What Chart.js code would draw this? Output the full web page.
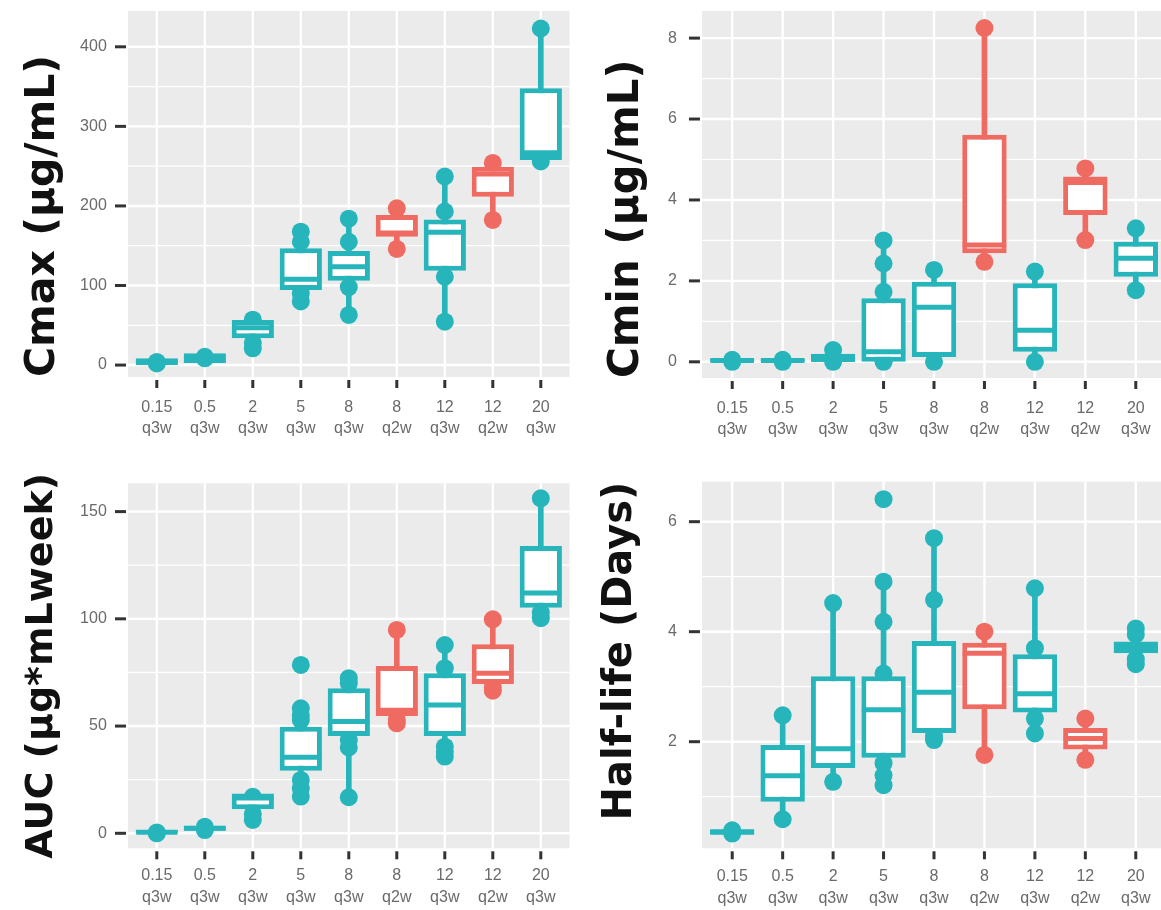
<!DOCTYPE html>
<html>
<head>
<meta charset="utf-8">
<script src="https://cdn.jsdelivr.net/npm/chart.js@4.4.0/dist/chart.umd.min.js"></script>
<style>
html, body { margin: 0; padding: 0; background: #ffffff; }
#wrap { position: relative; width: 1161px; height: 910px; overflow: hidden; background: #ffffff; }
#wrap canvas { position: absolute; }
</style>
</head>
<body>
<div id="wrap">
  <canvas id="cmax" width="580" height="455" style="left:0px;top:0px"></canvas>
  <canvas id="cmin" width="581" height="455" style="left:580px;top:0px"></canvas>
  <canvas id="auc" width="580" height="455" style="left:0px;top:455px"></canvas>
  <canvas id="half" width="581" height="455" style="left:580px;top:455px"></canvas>
</div>
<script>
// ---------- categories ----------
const doses = ['0.15', '0.5', '2', '5', '8', '8', '12', '12', '20'];
const schedules = ['q3w', 'q3w', 'q3w', 'q3w', 'q3w', 'q2w', 'q3w', 'q2w', 'q3w'];
const categories = doses.map((d, i) => d + ' ' + schedules[i]);

// ---------- Cmax (µg/mL) ----------
const cmaxTicks = [0, 100, 200, 300, 400];
const cmaxQ1  = [0, 2.5, 33.6, 94.3, 106, 161.4, 118.5, 211.7, 257.7];
const cmaxMed = [4, 8, 47, 108, 123.6, 166, 167, 240, 266.7];
const cmaxQ3  = [8.5, 15, 56.6, 146.7, 143.4, 188.5, 183, 249.4, 347.8];
const cmaxLo  = [2, 8.5, 21, 80, 63, 146, 54.5, 182.4, 256];
const cmaxHi  = [4, 10.3, 57, 167.6, 184, 197, 237, 254, 423];
const cmaxPts = [[2, 4], [8.5, 10.3], [21, 28, 57], [80, 90, 155, 167.6], [63, 98, 155, 184],
                 [146, 197], [54.5, 111, 193, 237], [182.4, 254], [256, 423]];

// ---------- Cmin (µg/mL) ----------
const cminTicks = [0, 2, 4, 6, 8];
const cminQ1  = [0, 0, 0, 0, 0.12, 2.68, 0.25, 3.63, 2.1];
const cminMed = [0.03, 0.03, 0.06, 0.25, 1.35, 2.89, 0.78, 4.43, 2.56];
const cminQ3  = [0.08, 0.08, 0.2, 1.57, 1.98, 5.61, 1.94, 4.58, 2.97];
const cminLo  = [0, 0, 0, 0, 0, 2.47, 0, 3.01, 1.77];
const cminHi  = [0.05, 0.05, 0.29, 3.0, 2.27, 8.25, 2.23, 4.78, 3.3];
const cminPts = [[0, 0.05], [0, 0.05], [0, 0.29], [0, 0.02, 1.73, 2.43, 3.0], [0, 2.27],
                 [2.47, 8.25], [0, 2.23], [3.01, 4.78], [1.77, 3.3]];

// ---------- AUC (µg*mLweek) ----------
const aucTicks = [0, 50, 100, 150];
const aucQ1  = [0, 1.2, 11.2, 29.2, 45.4, 54.7, 45.4, 69.6, 105.2];
const aucMed = [0.5, 2.3, 16.5, 35.5, 52.1, 57.4, 59.8, 74.6, 112];
const aucQ3  = [1.5, 3.5, 18.6, 49.7, 67.6, 78, 74.6, 88.1, 134];
const aucLo  = [0, 1.5, 6.2, 17.1, 16.8, 51.3, 35.8, 66.5, 100.3];
const aucHi  = [0.4, 3, 17, 58.3, 72.3, 94.8, 87.8, 99.8, 156.2];
const aucPts = [[0, 0.4], [1.5, 3], [6.2, 9, 17], [17.1, 21, 24.9, 52.8, 55.2, 58.3, 78.5],
                [16.8, 40, 43.5, 70, 72.3], [51.3, 53, 94.8], [35.8, 38, 40.4, 77, 87.8],
                [66.5, 68, 99.8], [100.3, 103, 156.2]];

// ---------- Half-life (Days) ----------
const halfTicks = [2, 4, 6];
const halfQ1  = [0.31, 0.91, 1.52, 1.71, 2.16, 2.59, 2.53, 1.86, 3.61];
const halfMed = [0.36, 1.38, 1.87, 2.58, 2.9, 3.61, 2.87, 2.06, 3.72];
const halfQ3  = [0.41, 1.94, 3.19, 3.19, 3.83, 3.8, 3.59, 2.25, 3.82];
const halfLo  = [0.33, 0.59, 1.27, 1.21, 2.03, 1.76, 2.15, 1.67, 3.41];
const halfHi  = [0.39, 2.48, 4.52, 4.91, 5.70, 4.0, 4.79, 2.42, 4.06];
const halfPts = [[0.33, 0.39], [0.59, 2.48], [1.27, 4.52], [1.21, 1.39, 1.61, 3.24, 4.18, 4.91, 6.41],
                 [2.03, 2.1, 4.58, 5.70], [1.76, 4.0], [2.15, 2.42, 3.7, 4.79], [1.67, 2.42],
                 [3.41, 3.5, 3.95, 4.06]];

// ---------- styling ----------
const TEAL = '#26B5BB';
const RED = '#EF6B62';
const colors = schedules.map(s => s === 'q2w' ? RED : TEAL);

const ggPanel = {
  id: 'ggPanel',
  beforeDraw(chart) {
    const { ctx, chartArea: ca, scales: { x, y } } = chart;
    const u = ca.width / categories.length;
    const L = ca.left - 0.1 * u, R = ca.right + 0.1 * u;
    ctx.save();
    ctx.fillStyle = '#EBEBEB';
    ctx.fillRect(L, ca.top, R - L, ca.bottom - ca.top);
    const tv = y.ticks.map(t => t.value);
    const step = tv[1] - tv[0];
    const minors = [tv[0] - step / 2].concat(tv.map(v => v + step / 2)).filter(v => v > y.min && v < y.max);
    ctx.strokeStyle = '#FFFFFF';
    ctx.lineWidth = 1.2;
    minors.forEach(v => {
      const py = y.getPixelForValue(v);
      ctx.beginPath(); ctx.moveTo(L, py); ctx.lineTo(R, py); ctx.stroke();
    });
    ctx.lineWidth = 2.4;
    tv.forEach(v => {
      const py = y.getPixelForValue(v);
      ctx.beginPath(); ctx.moveTo(L, py); ctx.lineTo(R, py); ctx.stroke();
    });
    categories.forEach((c, i) => {
      const px = x.getPixelForValue(i);
      ctx.beginPath(); ctx.moveTo(px, ca.top); ctx.lineTo(px, ca.bottom); ctx.stroke();
    });
    // tick marks
    ctx.strokeStyle = '#333333';
    ctx.lineWidth = 3;
    tv.forEach(v => {
      const py = y.getPixelForValue(v);
      ctx.beginPath(); ctx.moveTo(L - 13, py); ctx.lineTo(L - 2, py); ctx.stroke();
    });
    categories.forEach((c, i) => {
      const px = x.getPixelForValue(i);
      ctx.beginPath(); ctx.moveTo(px, ca.bottom + 3); ctx.lineTo(px, ca.bottom + 11); ctx.stroke();
    });
    ctx.restore();
  }
};

function makePanel(id, d, lay) {
  const canvas = document.getElementById(id);
  const W = canvas.width, H = canvas.height;
  const pointData = [];
  d.pts.forEach((arr, i) => arr.forEach(v => pointData.push({ x: categories[i], y: v })));
  const tickFont = { family: 'Liberation Sans, Arial, sans-serif', size: 16, lineHeight: 1.33 };
  return new Chart(canvas, {
    type: 'bar',
    data: {
      labels: categories,
      datasets: [
        {
          type: 'line', label: 'median', data: d.med, order: 1, showLine: false, clip: false,
          pointStyle: 'line',
          pointRadius: c => { const xs = c.chart.scales.x; return xs.width / categories.length * 0.44 - 0.5; },
          pointBorderWidth: 5, pointBorderColor: colors, pointBackgroundColor: colors,
          pointHoverRadius: 0
        },
        {
          type: 'bar', label: 'box', data: d.q1.map((v, i) => [v, d.q3[i]]), order: 2, grouped: false,
          backgroundColor: '#FFFFFF', borderColor: colors, borderWidth: 5, borderSkipped: false,
          barPercentage: 0.88, categoryPercentage: 1, clip: false
        },
        {
          type: 'bar', label: 'whisker', data: d.lo.map((v, i) => [v, d.hi[i]]), order: 3, grouped: false,
          backgroundColor: colors, borderWidth: 0, barThickness: 5, clip: false
        },
        {
          type: 'line', label: 'points', data: pointData, order: 4, showLine: false, clip: false,
          pointRadius: 9, pointBorderWidth: 0, pointHoverRadius: 9,
          pointBackgroundColor: c => colors[categories.indexOf(c.raw.x)]
        }
      ]
    },
    options: {
      responsive: false,
      devicePixelRatio: 1,
      animation: false,
      events: [],
      layout: { autoPadding: false, padding: { left: 0, top: lay.top, right: W - lay.right, bottom: 0 } },
      plugins: { legend: { display: false }, tooltip: { enabled: false } },
      scales: {
        x: {
          type: 'category', offset: true,
          grid: { display: false, drawTicks: false }, border: { display: false },
          ticks: {
            autoSkip: false, maxRotation: 0, minRotation: 0, padding: lay.xPad,
            color: '#6a6a6a', font: tickFont,
            callback: (v, i) => categories[i].split(' ')
          },
          afterFit: s => { s.height = H - lay.bottom; s.paddingLeft = 0; s.paddingRight = 0; }
        },
        y: {
          type: 'linear', min: d.min, max: d.max,
          grid: { display: false, drawTicks: false }, border: { display: false },
          afterBuildTicks: s => { s.ticks = d.ticks.map(v => ({ value: v })); },
          ticks: { padding: lay.yPad, color: '#6a6a6a', font: { family: 'Liberation Sans, Arial, sans-serif', size: 16 } },
          title: {
            display: true, text: d.title, color: '#111111', align: lay.titleAlign,
            font: { family: 'DejaVu Sans, sans-serif', weight: 'bold', size: lay.titleSize, lineHeight: 1 },
            padding: { top: lay.titleCenter - lay.titleSize / 2, bottom: 0 }
          },
          afterFit: s => { s.width = lay.left; s.paddingTop = 0; s.paddingBottom = 0; }
        }
      }
    },
    plugins: [ggPanel]
  });
}

makePanel('cmax',
  { q1: cmaxQ1, med: cmaxMed, q3: cmaxQ3, lo: cmaxLo, hi: cmaxHi, pts: cmaxPts, ticks: cmaxTicks,
    min: -15, max: 445, title: 'Cmax (µg/mL)' },
  { left: 132.8, top: 11, right: 564.8, bottom: 377, xPad: 20, yPad: 26,
    titleAlign: 'start', titleSize: 41, titleCenter: 43.5 });

makePanel('cmin',
  { q1: cminQ1, med: cminMed, q3: cminQ3, lo: cminLo, hi: cminHi, pts: cminPts, ticks: cminTicks,
    min: -0.4, max: 8.67, title: 'Cmin (µg/mL)' },
  { left: 127, top: 11, right: 581, bottom: 378, xPad: 20, yPad: 30,
    titleAlign: 'start', titleSize: 42, titleCenter: 47 });

makePanel('auc',
  { q1: aucQ1, med: aucMed, q3: aucQ3, lo: aucLo, hi: aucHi, pts: aucPts, ticks: aucTicks,
    min: -7, max: 163.2, title: 'AUC (µg*mLweek)' },
  { left: 132.8, top: 28.3, right: 564.8, bottom: 393.3, xPad: 17, yPad: 26,
    titleAlign: 'center', titleSize: 38, titleCenter: 42 });

makePanel('half',
  { q1: halfQ1, med: halfMed, q3: halfQ3, lo: halfLo, hi: halfHi, pts: halfPts, ticks: halfTicks,
    min: 0.062, max: 6.727, title: 'Half-life (Days)' },
  { left: 127, top: 26.7, right: 581, bottom: 393.3, xPad: 18, yPad: 30,
    titleAlign: 'end', titleSize: 40, titleCenter: 41 });
</script>
</body>
</html>
